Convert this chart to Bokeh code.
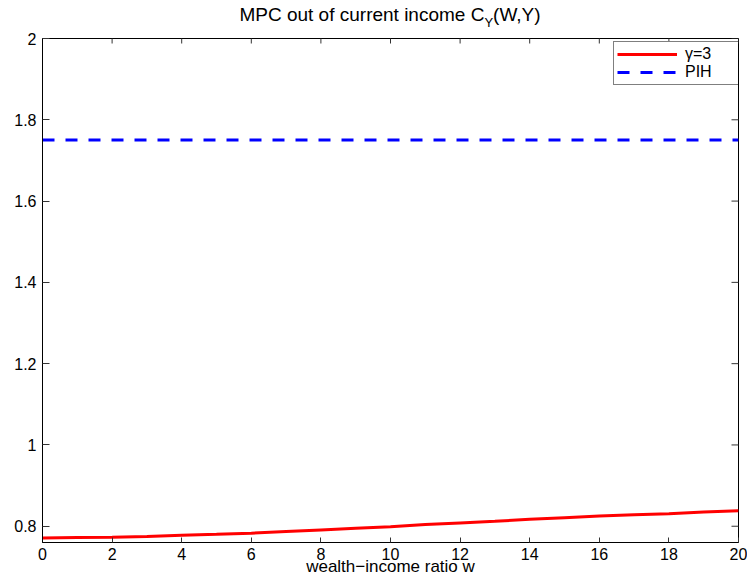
import math
from bokeh.plotting import figure
from bokeh.models import Range1d, FixedTicker, Legend, LegendItem, Div
from bokeh.layouts import column
from bokeh.embed import file_html
from bokeh.resources import INLINE

# ---- data ----
w_vals = [0, 1, 2, 3, 4, 5, 6, 7, 8, 9, 10, 11, 12, 13, 14, 15, 16, 17, 18, 19, 20]
mpc_gamma3 = [0.771, 0.772, 0.773, 0.775, 0.778, 0.780, 0.783, 0.787, 0.791, 0.795, 0.799,
              0.804, 0.808, 0.812, 0.817, 0.821, 0.825, 0.828, 0.831, 0.835, 0.838]
pih_w = [0, 20]
pih_mpc = [1.75, 1.75]

x_ticks = [0, 2, 4, 6, 8, 10, 12, 14, 16, 18, 20]
x_tick_labels = ["0", "2", "4", "6", "8", "10", "12", "14", "16", "18", "20"]
y_ticks = [0.8, 1.0, 1.2, 1.4, 1.6, 1.8, 2.0]
y_tick_labels = ["0.8", "1", "1.2", "1.4", "1.6", "1.8", "2"]

series_names = ["\u03b3=3", "PIH"]
title_main = "MPC out of current income C"
title_sub = "Y"
title_tail = "(W,Y)"
x_label = "wealth\u2212income ratio w"

FONT = "Liberation Sans"

# ---- title (HTML, with real subscript) ----
title_html = (
    '<div style="width:747px;box-sizing:border-box;padding-left:33px;padding-top:5px;'
    'text-align:center;font-family:\'Liberation Sans\',sans-serif;font-size:19px;'
    'line-height:20px;color:black;white-space:nowrap;">'
    + title_main
    + '<span style="font-size:13px;position:relative;top:6px;">' + title_sub + '</span>'
    + title_tail + '</div>'
)
title_div = Div(text=title_html, width=747, height=30, margin=0)

# ---- figure ----
p = figure(width=747, height=549,
           x_range=Range1d(0, 20), y_range=Range1d(0.76, 2.0),
           output_backend="svg", toolbar_location=None,
           min_border_left=42, min_border_right=9,
           min_border_top=8, min_border_bottom=37, margin=0)
p.background_fill_color = "white"
p.border_fill_color = "white"
p.outline_line_color = "black"
p.outline_line_width = 1
p.grid.visible = False

xa = p.xaxis[0]
xa.ticker = FixedTicker(ticks=x_ticks)
xa.major_label_overrides = {t: s for t, s in zip(x_ticks, x_tick_labels)}
xa.major_tick_in = 5
xa.major_tick_out = 0
xa.minor_tick_in = 0
xa.minor_tick_out = 0
xa.major_label_standoff = 5
xa.major_label_text_font = FONT
xa.major_label_text_font_size = "16px"
xa.major_label_text_color = "black"
xa.axis_line_color = "black"
xa.major_tick_line_color = "#333333"
xa.axis_label = x_label
xa.axis_label_text_font = FONT
xa.axis_label_text_font_size = "17px"
xa.axis_label_text_font_style = "normal"
xa.axis_label_text_color = "black"
xa.axis_label_standoff = -6

ya = p.yaxis[0]
ya.ticker = FixedTicker(ticks=y_ticks)
ya.major_label_overrides = {t: s for t, s in zip(y_ticks, y_tick_labels)}
ya.major_tick_in = 7
ya.major_tick_out = 0
ya.minor_tick_in = 0
ya.minor_tick_out = 0
ya.major_label_standoff = 6
ya.major_label_text_font = FONT
ya.major_label_text_font_size = "16px"
ya.major_label_text_color = "black"
ya.axis_line_color = "black"
ya.major_tick_line_color = "#333333"

# box-style ticks on the top and right edges (at the tick positions)
p.scatter(x=x_ticks, y=[y_ticks[-1]] * len(x_ticks), marker="dash", size=10,
          angle=math.pi / 2, line_color="#333333", line_width=1)
p.scatter(x=[x_ticks[-1]] * len(y_ticks), y=y_ticks, marker="dash", size=14,
          line_color="#333333", line_width=1)

# ---- series ----
r1 = p.line(w_vals, mpc_gamma3, line_color="#ff0000", line_width=3)
r2 = p.line(pih_w, pih_mpc, line_color="#0000ff", line_width=3, line_dash="12 11")

legend = Legend(items=[LegendItem(label=series_names[0], renderers=[r1]),
                       LegendItem(label=series_names[1], renderers=[r2])],
                location=(571, 457), orientation="vertical",
                padding=3, spacing=0, margin=0,
                glyph_width=60, glyph_height=16, label_height=16,
                label_width=50, label_standoff=8,
                label_text_font=FONT, label_text_font_size="16px",
                label_text_color="black",
                border_line_color="black", border_line_width=1,
                background_fill_color="white", background_fill_alpha=1.0)
p.add_layout(legend)

layout = column(title_div, p, spacing=0, margin=0)

open("out.html", "w").write(file_html(layout, INLINE))
